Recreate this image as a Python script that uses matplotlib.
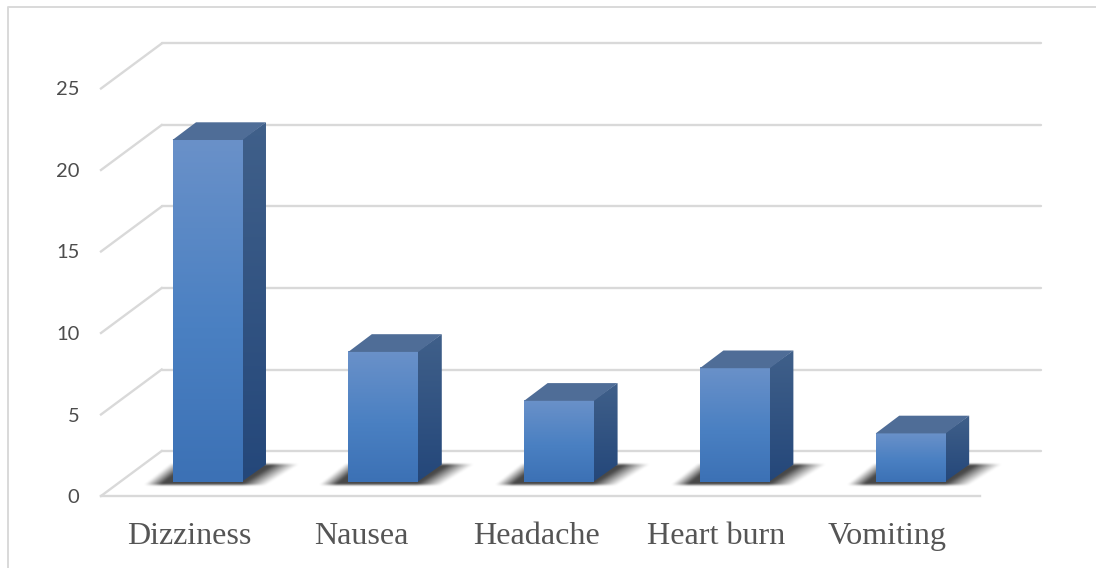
import numpy as np
import matplotlib
matplotlib.use("Agg")
import matplotlib.pyplot as plt
from matplotlib.lines import Line2D
from matplotlib.patches import Polygon
from matplotlib.transforms import Affine2D, IdentityTransform
from matplotlib.colors import LinearSegmentedColormap

categories = ["Dizziness", "Nausea", "Headache", "Heart burn", "Vomiting"]
values = [21, 8, 5, 7, 3]
y_ticks = [0, 5, 10, 15, 20, 25]

W, H = 1096, 568
GRID = "#d9d9d9"
TEXT = "#555555"
BAR_W = 0.398
BAR_SHIFT = (18.6, 13.7)   # px, front face of the bars relative to the front of the floor
BAR_DEPTH = (23.5, 17.7)   # px
WALL_DEPTH = (60.7, 45.0)  # px
LABEL_NUDGE = [0.5, -3.5, -4, 0, -4.5]  # px

fig = plt.figure(figsize=(W / 100, H / 100), dpi=100)
ax = fig.add_axes([101 / W, (H - 496) / H, 879 / W, 407.5 / H])
ax.patch.set_alpha(0)
ax.set_xlim(0, 5)
ax.set_ylim(0, 25)
ax.autoscale(False)
for s in ax.spines.values():
    s.set_visible(False)

ax.set_yticks(y_ticks)
ax.set_yticklabels([str(t) for t in y_ticks], family="Lato", fontsize=14.5, color="#4d4d4d")
ax.set_xticks(np.arange(len(categories)) + 0.5)
ax.set_xticklabels(categories, family="Liberation Serif", fontsize=23.1, color=TEXT)
ax.tick_params(axis="y", length=0, pad=15.5)
ax.tick_params(axis="x", length=0, pad=19)
for lab, dx in zip(ax.get_xticklabels(), LABEL_NUDGE):
    lab.set_transform(lab.get_transform() + Affine2D().translate(dx, 0))

# frame of the surrounding chart area
fig.add_artist(Line2D([8 / W, 8 / W, 1], [0, 1 - 7 / H, 1 - 7 / H], color=GRID, lw=1.4))

# walls and floor
back = ax.transData + Affine2D().translate(*WALL_DEPTH)
for t in y_ticks:
    ax.plot([0, 5], [t, t], transform=back, color=GRID, lw=1.7, clip_on=False, zorder=1,
            solid_capstyle="round")
    p = ax.transData.transform((0, t))
    ax.add_line(Line2D([p[0], p[0] + WALL_DEPTH[0]], [p[1], p[1] + WALL_DEPTH[1]],
                       transform=IdentityTransform(), color=GRID, lw=1.7, clip_on=False, zorder=1))
ax.plot([0, 5], [0, 0], color=GRID, lw=1.7, clip_on=False, zorder=1)

front_cmap = LinearSegmentedColormap.from_list(
    "front", [(0, "#3c71b5"), (0.45, "#4a80c2"), (1, "#6a91c9")])
side_cmap = LinearSegmentedColormap.from_list(
    "side", [(0, "#24477a"), (1, "#40608a")])
grad = np.linspace(0, 1, 256).reshape(-1, 1)

bar_tf = ax.transData + Affine2D().translate(*BAR_SHIFT)


def blur(a, size):
    k = np.hanning(size + 2)[1:-1]
    k = k / k.sum()
    a = np.apply_along_axis(lambda r: np.convolve(r, k, mode="same"), 1, a)
    return np.apply_along_axis(lambda c: np.convolve(c, k, mode="same"), 0, a)


def shadow(x0, y0):
    us = np.arange(-45, 140)
    ws = np.arange(-10, 30)
    uu, ww = np.meshgrid(us + 0.5, ws + 0.5)
    left = -31 + (ww + 4) * 1.25
    right = 92 + (ww + 4) * 1.6
    a = np.clip((uu - left) / 17, 0, 1) * np.clip((right - uu) / 26, 0, 1)
    a *= ((ww > -3.5) & (ww < 18)).astype(float)
    a = blur(a, 5)
    rgba = np.zeros(a.shape + (4,))
    rgba[..., 3] = a ** 1.1 * 0.72
    ax.imshow(rgba, origin="lower", aspect="auto", interpolation="bilinear",
              extent=(x0 + us[0], x0 + us[-1] + 1, y0 + ws[0], y0 + ws[-1] + 1),
              transform=IdentityTransform(), clip_on=False, zorder=2)


for i, v in enumerate(values):
    xl, xr = i + 0.5 - BAR_W / 2, i + 0.5 + BAR_W / 2
    bl = bar_tf.transform((xl, 0))
    br = bar_tf.transform((xr, 0))
    tl = bar_tf.transform((xl, v))
    tr = bar_tf.transform((xr, v))
    d = np.array(BAR_DEPTH)
    under = np.array((1.5, 0))  # side face runs a little under the front face

    shadow(bl[0], bl[1])

    ax.imshow(grad, origin="lower", aspect="auto", cmap=front_cmap, vmin=0, vmax=1,
              extent=(xl, xr, 0, v), transform=bar_tf, clip_on=False, zorder=4,
              interpolation="bilinear")

    side = Polygon([br - under, br + d, tr + d, tr - under], closed=True,
                   transform=IdentityTransform(), fc="none", ec="none", zorder=3)
    ax.add_patch(side)
    im = ax.imshow(grad, origin="lower", aspect="auto", cmap=side_cmap, vmin=0, vmax=1,
                   extent=(br[0] - 2, br[0] + d[0], br[1], tr[1] + d[1]),
                   transform=IdentityTransform(), zorder=3, interpolation="bilinear")
    im.set_clip_path(side)

    ax.add_patch(Polygon([tl, tr, tr + d, tl + d], closed=True, transform=IdentityTransform(),
                         fc="#4f6d97", ec="none", zorder=5, clip_on=False))

ax.set_xlim(0, 5)
ax.set_ylim(0, 25)
fig.savefig("out.png", dpi=100)
